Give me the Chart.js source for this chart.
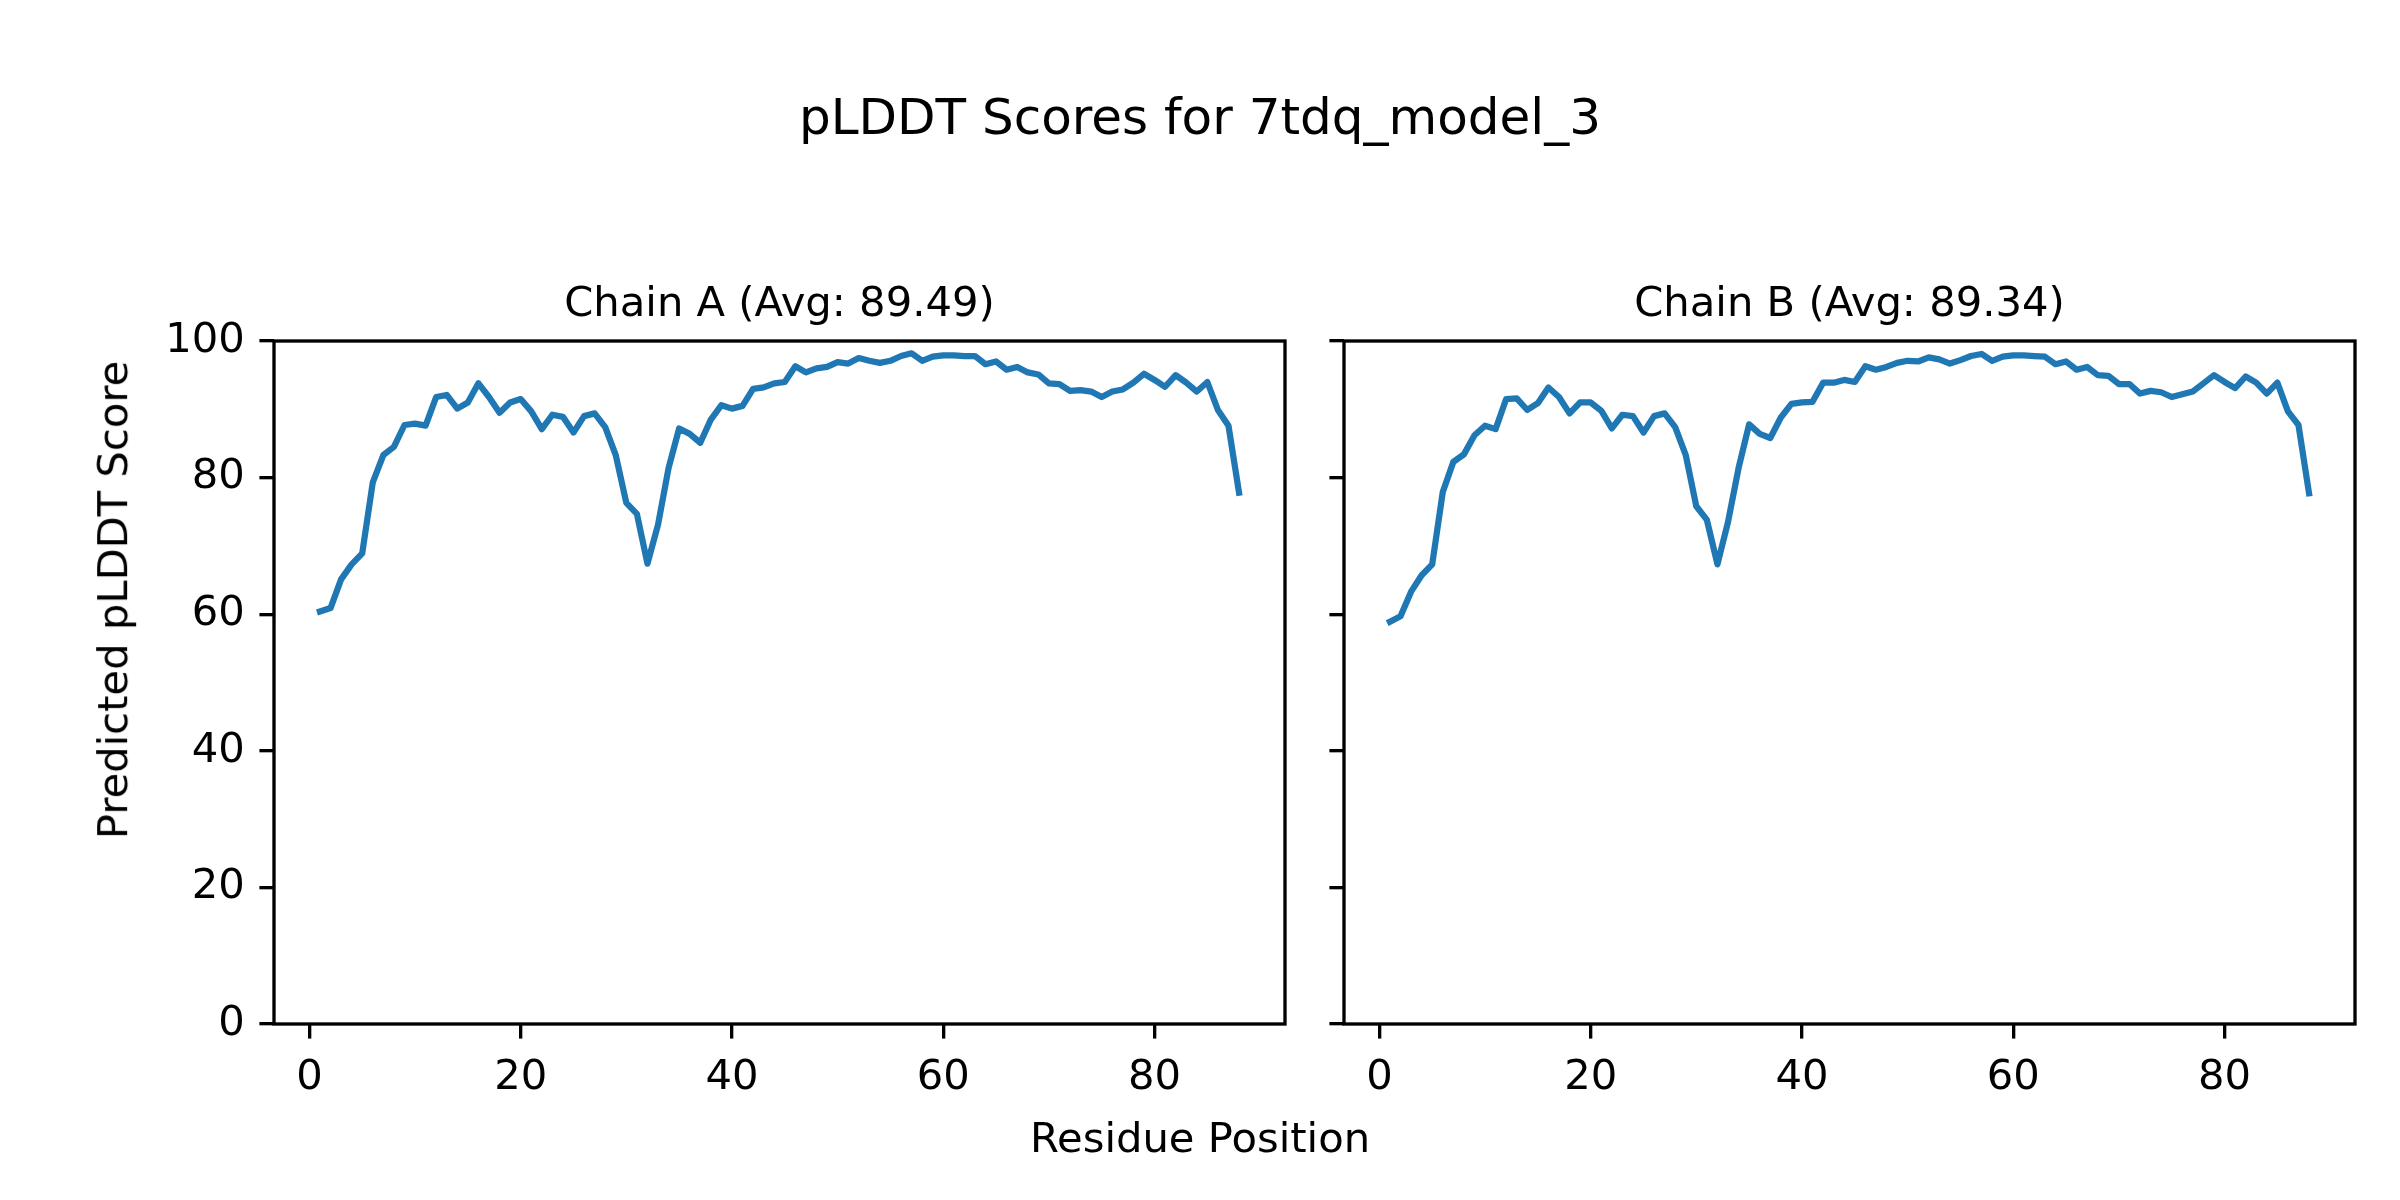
<!DOCTYPE html>
<html>
<head>
<meta charset="utf-8">
<script src="https://cdn.jsdelivr.net/npm/chart.js@4.4.1/dist/chart.umd.min.js"></script>
<style>
  html, body { margin: 0; padding: 0; background: #fff; }
  #wrap { position: relative; width: 2400px; height: 1200px; background: #fff; overflow: hidden; font-family: "DejaVu Sans", sans-serif; color: #000; }
  canvas { position: absolute; top: 0; }
  .t { position: absolute; white-space: nowrap; line-height: 1; transform: translateX(-50%); }
</style>
</head>
<body>
<div id="wrap">
  <canvas id="cA" width="1320" height="1200" style="left:0px;width:1320px;height:1200px"></canvas>
  <canvas id="cB" width="1080" height="1200" style="left:1320px;width:1080px;height:1200px"></canvas>
  <div class="t" id="suptitle" style="left:1200px;top:91.7px;font-size:50px">pLDDT Scores for 7tdq_model_3</div>
  <div class="t" id="titleA" style="left:779.5px;top:280.7px;font-size:41.7px">Chain A (Avg: 89.49)</div>
  <div class="t" id="titleB" style="left:1849.5px;top:280.7px;font-size:41.7px">Chain B (Avg: 89.34)</div>
  <div class="t" id="xlabel" style="left:1200px;top:1116.7px;font-size:41.7px">Residue Position</div>
  <div class="t" id="ylabel" style="left:112.6px;top:600px;font-size:41.7px;transform:translate(-50%,-50%) rotate(-90deg)">Predicted pLDDT Score</div>
</div>
<script>
const residues = [1,2,3,4,5,6,7,8,9,10,11,12,13,14,15,16,17,18,19,20,21,22,23,24,25,26,27,28,29,30,31,32,33,34,35,36,37,38,39,40,41,42,43,44,45,46,47,48,49,50,51,52,53,54,55,56,57,58,59,60,61,62,63,64,65,66,67,68,69,70,71,72,73,74,75,76,77,78,79,80,81,82,83,84,85,86,87,88];

const chainA = [60.4,60.9,65.1,67.3,68.9,79.3,83.3,84.5,87.7,87.9,
  87.6,91.8,92.1,90.1,91.0,93.8,91.8,89.5,91.0,91.5,
  89.7,87.1,89.2,88.9,86.6,89.0,89.4,87.4,83.3,76.3,
  74.7,67.4,73.1,81.4,87.2,86.4,85.1,88.5,90.6,90.1,
  90.5,93.0,93.2,93.8,94.0,96.3,95.4,96.0,96.2,96.9,
  96.7,97.5,97.1,96.8,97.1,97.8,98.2,97.1,97.7,97.9,
  97.9,97.8,97.8,96.6,97.0,95.8,96.2,95.4,95.1,93.8,
  93.7,92.7,92.8,92.6,91.8,92.6,92.9,93.9,95.2,94.3,
  93.3,95.0,93.9,92.6,94.0,89.9,87.6,77.8];

const chainB = [58.9,59.7,63.3,65.7,67.3,77.9,82.3,83.4,86.2,87.6,
  87.1,91.5,91.6,89.9,90.9,93.2,91.8,89.4,91.0,91.0,
  89.8,87.2,89.2,89.0,86.6,89.0,89.4,87.4,83.3,75.8,
  73.8,67.3,73.5,81.4,87.8,86.4,85.8,88.8,90.8,91.0,
  91.1,93.9,93.9,94.3,94.0,96.3,95.8,96.2,96.8,97.1,
  97.0,97.6,97.3,96.7,97.2,97.8,98.1,97.1,97.7,97.9,
  97.9,97.8,97.7,96.6,97.0,95.8,96.2,95.0,94.9,93.7,
  93.7,92.3,92.7,92.5,91.8,92.2,92.6,93.8,95.0,94.0,
  93.1,94.8,93.9,92.3,93.9,89.7,87.7,77.7];

const xTicks = [0, 20, 40, 60, 80];
const yTicks = [0, 20, 40, 60, 80, 100];
const xMin = -3.35, xMax = 92.35;
const yMin = 0, yMax = 100;

const LINE_COLOR = '#1f77b4';
const SPINE_W = 3.33;
const TICK_LEN = 14.6;
const TICK_PAD = 14.6;
const FONT = { family: 'DejaVu Sans', size: 41.7 };

const framePlugin = {
  id: 'frame',
  afterDatasetsDraw(chart) {
    const { ctx, chartArea: a } = chart;
    ctx.save();
    ctx.strokeStyle = '#000';
    ctx.lineWidth = SPINE_W;
    ctx.lineJoin = 'miter';
    ctx.strokeRect(a.left, a.top, a.right - a.left, a.bottom - a.top);
    ctx.restore();
  }
};

function makeChart(id, values, cfg) {
  const pts = residues.map((r, i) => ({ x: r, y: values[i] }));
  return new Chart(document.getElementById(id), {
    type: 'line',
    data: {
      datasets: [{
        data: pts,
        borderColor: LINE_COLOR,
        borderWidth: 6.25,
        pointRadius: 0,
        pointHoverRadius: 0,
        tension: 0,
        fill: false,
        borderJoinStyle: 'round',
        borderCapStyle: 'square'
      }]
    },
    options: {
      responsive: false,
      maintainAspectRatio: false,
      devicePixelRatio: 1,
      animation: false,
      events: [],
      layout: { padding: { left: 0, top: 341, right: cfg.padRight, bottom: 0 } },
      plugins: { legend: { display: false }, title: { display: false }, tooltip: { enabled: false } },
      scales: {
        x: {
          type: 'linear',
          min: xMin, max: xMax,
          afterBuildTicks: (s) => { s.ticks = xTicks.map(v => ({ value: v })); },
          afterFit: (s) => { s.height = 1200 - 1024; },
          border: { display: false },
          grid: { drawOnChartArea: false, drawTicks: true, tickLength: TICK_LEN, tickWidth: SPINE_W, tickColor: '#000', color: '#000', lineWidth: SPINE_W },
          ticks: { color: '#000', font: FONT, padding: TICK_PAD, maxRotation: 0, autoSkip: false }
        },
        y: {
          type: 'linear',
          min: yMin, max: yMax,
          afterBuildTicks: (s) => { s.ticks = yTicks.map(v => ({ value: v })); },
          afterFit: (s) => { s.width = cfg.yWidth; },
          border: { display: false },
          grid: { drawOnChartArea: false, drawTicks: true, tickLength: TICK_LEN, tickWidth: SPINE_W, tickColor: '#000', color: '#000', lineWidth: SPINE_W },
          ticks: { display: cfg.yLabels, color: '#000', font: FONT, padding: TICK_PAD, autoSkip: false }
        }
      }
    },
    plugins: [framePlugin]
  });
}

makeChart('cA', chainA, { padRight: 1320 - 1285, yWidth: 274, yLabels: true });
makeChart('cB', chainB, { padRight: 1080 - 1035, yWidth: 24, yLabels: false });
</script>
</body>
</html>
